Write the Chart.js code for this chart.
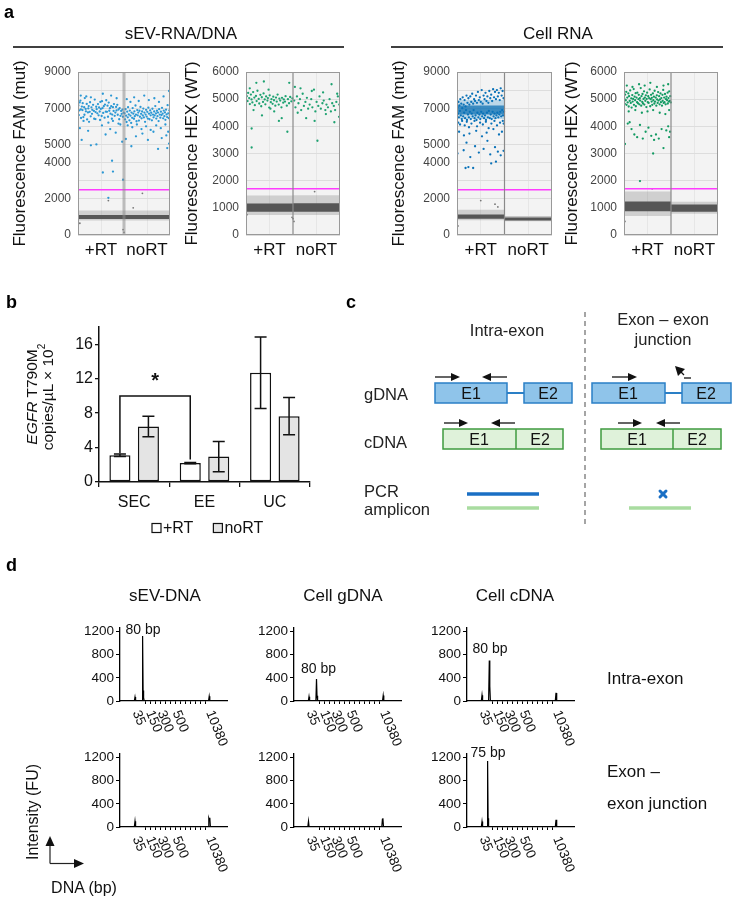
<!DOCTYPE html>
<html><head><meta charset="utf-8">
<script src="https://cdn.jsdelivr.net/npm/chart.js@4.4.1/dist/chart.umd.min.js"></script>
<style>
html,body{margin:0;padding:0;background:#fff}
body{width:737px;height:898px;position:relative;overflow:hidden;font-family:"Liberation Sans",Arial,sans-serif}
canvas{position:absolute}
svg{position:absolute;left:0;top:0}
</style></head><body>
<canvas id="a1" width="176" height="210" style="left:0px;top:55px"></canvas>
<canvas id="a2" width="168" height="210" style="left:176px;top:55px"></canvas>
<canvas id="a3" width="176" height="210" style="left:380px;top:55px"></canvas>
<canvas id="a4" width="166" height="210" style="left:556px;top:55px"></canvas>
<canvas id="bChart" width="330" height="240" style="left:0px;top:310px"></canvas>
<canvas id="d1" width="179" height="143" style="left:60px;top:608px"></canvas>
<canvas id="d2" width="179" height="143" style="left:234px;top:608px"></canvas>
<canvas id="d3" width="179" height="143" style="left:407px;top:608px"></canvas>
<canvas id="d4" width="179" height="143" style="left:60px;top:734px"></canvas>
<canvas id="d5" width="179" height="143" style="left:234px;top:734px"></canvas>
<canvas id="d6" width="179" height="143" style="left:407px;top:734px"></canvas>

<svg width="737" height="898" font-family="Liberation Sans, Arial, sans-serif">
  <g font-weight="bold" font-size="18" fill="#000">
    <text x="4" y="18">a</text><text x="6" y="308">b</text>
    <text x="346" y="308">c</text><text x="6" y="571">d</text>
  </g>
  <g font-size="17" text-anchor="middle" fill="#111">
    <text x="181" y="39">sEV-RNA/DNA</text>
    <text x="558" y="39">Cell RNA</text>
  </g>
  <line x1="13" y1="47" x2="344" y2="47" stroke="#000" stroke-width="1.6"/>
  <line x1="391" y1="47" x2="723" y2="47" stroke="#000" stroke-width="1.6"/>

  <g font-size="15.5" fill="#111" text-anchor="middle">
    <text transform="translate(31,397) rotate(-90)" dominant-baseline="central"><tspan font-style="italic">EGFR</tspan> T790M</text>
    <text transform="translate(47,397) rotate(-90)" dominant-baseline="central">copies/µL × 10<tspan font-size="10" dy="-6">2</tspan></text>
  </g>

  <line x1="585" y1="312" x2="585" y2="525" stroke="#888" stroke-width="1.5" stroke-dasharray="5,4"/>
  <g font-size="16.5" fill="#222">
    <text x="507" y="336" text-anchor="middle">Intra-exon</text>
    <text x="663" y="325" text-anchor="middle">Exon – exon</text>
    <text x="663" y="345" text-anchor="middle">junction</text>
    <text x="364" y="400">gDNA</text>
    <text x="364" y="448">cDNA</text>
    <text x="364" y="497">PCR</text>
    <text x="364" y="515">amplicon</text>
  </g>
  <g stroke="#2a7fc6" stroke-width="1.5" fill="#8fc4ea">
    <line x1="507" y1="393" x2="524" y2="393" stroke-width="2"/>
    <rect x="435" y="383" width="72" height="20"/>
    <rect x="524" y="383" width="48" height="20"/>
    <line x1="665" y1="393" x2="682" y2="393" stroke-width="2"/>
    <rect x="592" y="383" width="73" height="20"/>
    <rect x="682" y="383" width="49" height="20"/>
  </g>
  <g stroke="#3f9b3f" stroke-width="1.5" fill="#dff2da">
    <rect x="443" y="429" width="120" height="20"/>
    <line x1="516" y1="429" x2="516" y2="449"/>
    <rect x="601" y="429" width="120" height="20"/>
    <line x1="673" y1="429" x2="673" y2="449"/>
  </g>
  <g font-size="16" fill="#111" text-anchor="middle">
    <text x="471" y="399">E1</text><text x="548" y="399">E2</text>
    <text x="479" y="445">E1</text><text x="540" y="445">E2</text>
    <text x="628" y="399">E1</text><text x="706" y="399">E2</text>
    <text x="637" y="445">E1</text><text x="697" y="445">E2</text>
  </g>
  <g stroke="#111" stroke-width="1.3" fill="#111">
    <line x1="435" y1="377" x2="452" y2="377"/><polygon points="460,377 451,373 451,381" stroke="none"/>
    <line x1="490" y1="377" x2="507" y2="377"/><polygon points="482,377 491,373 491,381" stroke="none"/>
    <line x1="444" y1="423" x2="460" y2="423"/><polygon points="468,423 459,419 459,427" stroke="none"/>
    <line x1="499" y1="423" x2="515" y2="423"/><polygon points="491,423 500,419 500,427" stroke="none"/>
    <line x1="612" y1="377" x2="629" y2="377"/><polygon points="637,377 628,373 628,381" stroke="none"/>
    <polygon points="675,366 685,369 678,376" stroke="none"/><line x1="680" y1="371" x2="684" y2="375"/>
    <line x1="684" y1="378" x2="691" y2="378"/>
    <line x1="618" y1="423" x2="634" y2="423"/><polygon points="642,423 633,419 633,427" stroke="none"/>
    <line x1="664" y1="423" x2="680" y2="423"/><polygon points="656,423 665,419 665,427" stroke="none"/>
  </g>
  <line x1="467" y1="494" x2="539" y2="494" stroke="#1a6fc4" stroke-width="3.5"/>
  <line x1="467" y1="508" x2="539" y2="508" stroke="#a9dca0" stroke-width="3.5"/>
  <line x1="629" y1="508" x2="691" y2="508" stroke="#a9dca0" stroke-width="3.5"/>
  <g stroke="#1a6fc4" stroke-width="3" stroke-linecap="round">
    <line x1="660" y1="491" x2="666" y2="497"/><line x1="666" y1="491" x2="660" y2="497"/>
  </g>

  <g font-size="17" fill="#111" text-anchor="middle">
    <text x="165" y="601">sEV-DNA</text>
    <text x="343" y="601">Cell gDNA</text>
    <text x="515" y="601">Cell cDNA</text>
  </g>
  <g font-size="17" fill="#111">
    <text x="607" y="684">Intra-exon</text>
    <text x="607" y="777">Exon –</text>
    <text x="607" y="809">exon junction</text>
  </g>
  <g font-size="16" fill="#111" text-anchor="middle">
    <text transform="translate(32,812) rotate(-90)" dominant-baseline="central">Intensity (FU)</text>
    <text x="84" y="893">DNA (bp)</text>
  </g>
  <g stroke="#222" stroke-width="1.2" fill="#111">
    <line x1="50" y1="863.5" x2="50" y2="845"/><polygon points="50,836 45.5,846 54.5,846" stroke="none"/>
    <line x1="50" y1="863.5" x2="75" y2="863.5"/><polygon points="84,863.5 74,859 74,868" stroke="none"/>
  </g>
</svg>

<script>
// ---------------- DATA ----------------
// panel a : ddPCR droplet amplitudes (event index 0-50 = +RT, 50-100 = noRT)
const groupLabels = ['+RT', 'noRT'];
const famTickLabels = [0, 2000, 4000, 5000, 7000, 9000];
const hexTickLabels = [0, 1000, 2000, 3000, 4000, 5000, 6000];
const famThreshold = 2500;
const hexThreshold = 1700;

// negative droplet clusters: [low, high] amplitude of the dense core and of the sparse halo
const sevFamNeg = { rt: { core: [880, 1100], halo: [800, 1350] }, no: { core: [880, 1100], halo: [800, 1350] } };
const sevHexNeg = { rt: { core: [860, 1160], halo: [740, 1450] }, no: { core: [860, 1170], halo: [740, 1460] } };
const cellFamNeg = { rt: { core: [900, 1130], halo: [820, 1400] }, no: { core: [800, 960], halo: [760, 1030] } };
const cellHexNeg = { rt: { core: [870, 1230], halo: [700, 1600] }, no: { core: [860, 1120], halo: [780, 1220] } };
const cellFamPosCluster = { core: [6650, 7150], halo: [6400, 7450] };

// positive droplets [event, amplitude, ...]
const sevFamPos = [0.4,7150, 0.9,6620, 1.3,6880, 1.8,7320, 2.6,7420, 3.1,6930, 3.3,6460, 4.2,7090, 4.9,6900, 5.1,7280, 5.8,6510, 6.7,7060, 7.0,6640, 7.4,7560, 8.3,6960, 8.6,6830, 9.5,7240, 9.9,6380, 10.8,6770, 11.2,6990, 11.6,7120, 12.7,6800, 13.1,7330, 13.8,6550, 14.6,7050, 15.2,6690, 15.5,6910, 16.4,7190, 17.3,6850, 17.6,6420, 18.2,7480, 19.1,6790, 19.8,7080, 20.3,6950, 21.0,6720, 21.7,7230, 22.4,6610, 22.9,7040, 23.6,6820, 24.3,7350, 24.8,6960, 25.7,6570, 26.1,7390, 26.6,7000, 27.4,6740, 28.0,7110, 28.9,6480, 29.3,7200, 30.2,6810, 30.7,7440, 31.5,6800, 32.1,7140, 32.6,6530, 33.4,7310, 34.0,6860, 34.7,7000, 35.3,6700, 36.1,7110, 36.8,6420, 37.2,6650, 38.0,7060, 38.7,6850, 39.1,7230, 39.9,6580, 40.6,6760, 41.4,7070, 41.9,6880, 42.7,7190, 43.2,6640, 44.1,6930, 44.8,6390, 45.3,7010, 46.2,6580, 46.9,6850, 47.5,6690, 48.3,6920, 48.8,6530, 49.6,6760,
  3,7700, 9,7650, 14,7600, 27,7800, 36,7700, 42,7550, 6,6300, 12,6250, 19,6400, 24,6350, 33,6200, 38,6300, 44,6150,
  2,5900, 4,5250, 11,5750, 14,4950, 20,5000, 26,6050, 30,5550, 35,5850, 41,5650, 46,6100, 48,5150, 27,3450, 37,4100, 38,3500, 33,2050, 49,3050,
  50.6,6720, 51.2,6380, 51.7,6950, 52.3,6590, 52.8,6240, 53.5,6810, 54.1,6500, 54.4,7060, 55.2,6660, 55.9,6330, 56.3,6870, 57.0,6590, 57.8,6190, 58.2,6760, 58.9,6470, 59.4,7010, 60.1,6700, 60.8,6420, 61.3,6830, 61.7,6560, 62.5,7150, 63.0,6650, 63.6,6280, 64.4,6900, 64.9,6610, 65.5,6760, 66.2,6320, 66.8,6860, 67.3,6530, 67.9,7070, 68.6,6690, 69.1,6440, 69.7,6820, 70.4,6600, 71.0,6980, 71.6,6490, 72.2,6760, 72.9,6250, 73.5,6650, 74.0,6910, 74.6,6540, 75.3,6800, 75.9,6430, 76.5,7030, 77.2,6700, 77.7,6390, 78.4,6880, 79.0,6610, 79.6,6750, 80.3,6330, 80.9,6970, 81.5,6650, 82.1,6500, 82.8,6820, 83.3,6600, 84.0,7120, 84.7,6710, 85.1,6430, 85.8,6860, 86.4,6560, 87.0,6760, 87.6,6290, 88.2,6950, 88.9,6650, 89.5,6480, 90.1,6810, 90.8,6620, 91.3,7020, 92.0,6700, 92.6,6440, 93.2,6870, 93.9,6560, 94.5,6770, 95.0,6360, 95.7,6920, 96.3,6660, 96.9,6510, 97.4,7170, 98.1,6720, 98.7,6450, 99.3,6880, 99.8,6600,
  53,7500, 57,7350, 61,7600, 66,7400, 72,7700, 77,7450, 83,7550, 88,7350, 93,7650, 99,7950, 54,6050, 59,5950, 64,6100, 69,5850, 74,6000, 79,5800, 85,6050, 90,5900, 95,6100, 98,5700,
  52,5300, 58,4900, 63,5450, 70,5600, 76,5250, 82,5700, 87,4750, 91,5350, 96,5500, 99,5050, 97,4800];
const sevHexPos = [0.8,5110, 1.7,4930, 2.3,5230, 3.4,5040, 4.1,4820, 5.2,5170, 5.9,4990, 6.8,4880, 7.6,5260, 8.9,5060, 9.4,4780, 10.6,5120, 11.3,4930, 12.2,5310, 13.5,5010, 14.1,4840, 15.3,5160, 16.2,4740, 16.8,5070, 18.1,4900, 18.7,5210, 19.9,4990, 20.6,4810, 21.4,5100, 22.8,4950, 23.3,5040, 24.7,4690, 25.2,5140, 26.4,4890, 27.1,5000, 28.3,4830, 29.0,5090, 29.8,4960, 31.2,4760, 31.9,5060, 32.7,4910, 33.6,5170, 34.8,4800, 35.5,5020, 36.4,4950, 37.7,4700, 38.3,5050, 39.6,4870, 40.2,4990, 41.5,4910, 42.1,5110, 43.4,4760, 44.6,5000, 45.8,4850, 47.0,5080, 48.2,4920, 49.3,5030,
  11,5600, 19,5650, 46,5600, 4,5400, 24,5350, 8,4600, 30,4550, 17,4400, 38,4300, 26,4650, 6,3920, 6,3220, 44,3800, 35,4200,
  51.3,4950, 52.6,4700, 54.2,5100, 55.8,4850, 57.4,5000, 58.7,4600, 60.3,5200, 61.6,4750, 63.2,4900, 64.8,5050, 66.1,4650, 67.7,4800, 69.4,5000, 70.6,4700, 72.3,5350, 73.8,4550, 75.1,4900, 76.9,4750, 78.2,5100, 79.6,4650, 81.3,4850, 82.7,4950, 84.4,4600, 85.6,4800, 87.2,4700, 88.9,5000, 90.3,4550, 91.7,4850, 93.4,4750, 94.8,4600, 96.1,4900, 97.7,5100, 99.2,4800,
  52,5450, 58,5400, 70,5300, 82,5250, 91,5550, 97,5200, 64,4300, 73,4200, 85,4450, 94,4150, 99,4350, 76,3470, 55,4500];
const cellFamPos = [0.5,7050, 1,6700, 1.5,7350, 2,6500, 2.5,7150, 3,6850, 3.5,7500, 4,6600, 4.5,7250, 5,6400, 5.5,7000, 6,7600, 6.5,6550, 7,7200, 7.5,6750, 8,7450, 8.5,6450, 9,7100, 9.5,6900, 10,7700, 10.5,6350, 11,7300, 11.5,6650, 12,7550, 12.5,6500, 13,7200, 13.5,6800, 14,7650, 14.5,6400, 15,7350, 15.5,6700, 16,7800, 16.5,6550, 17,7250, 17.5,6900, 18,7500, 18.5,6450, 19,7400, 19.5,6600, 20,7700, 20.5,6350, 21,7300, 21.5,6750, 22,7900, 22.5,6500, 23,7450, 23.5,6650, 24,7600, 24.5,6400, 25,7350, 25.5,6800, 26,8000, 26.5,6550, 27,7250, 27.5,6700, 28,7700, 28.5,6450, 29,7500, 29.5,6600, 30,7850, 30.5,6350, 31,7400, 31.5,6750, 32,7650, 32.5,6500, 33,7300, 33.5,6850, 34,7950, 34.5,6450, 35,7550, 35.5,6650, 36,7750, 36.5,6400, 37,7400, 37.5,6800, 38,8050, 38.5,6550, 39,7600, 39.5,6700, 40,7900, 40.5,6450, 41,7500, 41.5,6600, 42,8000, 42.5,6750, 43,7650, 43.5,6500, 44,7850, 44.5,6650, 45,7450, 45.5,6800, 46,8100, 46.5,6550, 47,7700, 47.5,6900, 48,7950, 48.5,6600, 49,7550, 49.5,6800,
  1.3,6200, 3.2,6100, 5.4,6300, 8.1,6050, 10.3,6250, 12.6,5950, 15.2,6150, 18.4,6300, 21.1,6000, 24.3,6200, 27.2,6100, 30.4,6250, 33.3,5900, 36.2,6150, 39.4,6300, 42.1,6050, 45.3,6200, 48.2,6300, 49.1,6150,
  2.2,5700, 7.3,5500, 13.1,5600, 20.2,5750, 26.3,5450, 31.2,5650, 38.3,5850, 44.2,5550, 47.3,5700,
  0.5,4500, 7,4680, 10,5100, 14,4300, 19,4900, 23,4550, 28,4750, 32,5200, 35,4450, 40,4850, 43,4600, 46,4400, 49,4650, 9,3700, 17,3700, 12,3750, 36,3950, 41,4050];
const cellHexPos = [0.3,5020, 0.8,4830, 1.2,5170, 1.9,4960, 2.4,5270, 2.7,4790, 3.5,5060, 3.9,4880, 4.6,5210, 5.0,4730, 5.4,5110, 6.1,4940, 6.6,5320, 7.2,4860, 7.7,5030, 8.1,4690, 8.8,5150, 9.2,4910, 9.7,5010, 10.3,5370, 10.6,4790, 11.3,5090, 11.8,4960, 12.4,5220, 12.6,4740, 13.3,5060, 13.9,4890, 14.2,5240, 14.8,4850, 15.4,5000, 15.7,5160, 16.3,4810, 16.9,5040, 17.2,4950, 17.8,5410, 18.3,4760, 18.6,5110, 19.4,4900, 19.7,5190, 20.2,4840, 20.8,5010, 21.3,5290, 21.6,4800, 22.1,5060, 22.7,4940, 23.2,5140, 23.8,4710, 24.1,5010, 24.6,5240, 25.3,4890, 25.8,5110, 26.2,4860, 26.7,5040, 27.3,5360, 27.9,4740, 28.4,5000, 28.8,5160, 29.4,4910, 29.6,5050, 30.1,4790, 30.7,5210, 31.2,4960, 31.8,5090, 32.3,4840, 32.6,5310, 33.1,4910, 33.7,5060, 34.4,4760, 34.9,5140, 35.2,4990, 35.8,4860, 36.3,5260, 36.7,4950, 37.4,5110, 37.9,4810, 38.2,4990, 38.8,5210, 39.3,4890, 39.7,5040, 40.4,4760, 40.9,5160, 41.1,4940, 41.7,5340, 42.2,4860, 42.8,5060, 43.1,4890, 43.6,5190, 44.3,4810, 44.7,5000, 45.2,5090, 45.9,4960, 46.4,5240, 46.6,4840, 47.3,5040, 47.8,4910, 48.1,5290, 48.7,4940, 49.2,5110, 49.8,4880,
  3,5500, 9,5450, 16,5550, 22,5500, 28,5600, 35,5450, 42,5500, 47,5550, 5,4550, 12,4600, 19,4500, 25,4550, 31,4600, 38,4500, 44,4450, 48,4600,
  1,3350, 4,4100, 6,4150, 8,3900, 11,3700, 14,3600, 17,4050, 20,3550, 23,3800, 26,3950, 29,3650, 32,3500, 34,3700, 37,3550, 40,3900, 42,3200, 45,3850, 47,4000, 49,3800, 48,3600, 31,3000, 17,1985];
const sevFamOutliers = [2,650, 49,300, 50,150, 70,2300, 33,1900, 60,1500];
const sevHexOutliers = [1,750, 50,600, 51,500, 49,650, 73,1600];
const cellFamOutliers = [1,500, 25,1900, 40,1700, 43,1550];
const cellHexOutliers = [1,500, 30,1700];

// panel b : EGFR T790M copies/uL x 10^2
const bCategories = ['SEC', 'EE', 'UC'];
const bSeries = ['+RT', 'noRT'];
const bPlusRT = [3.1, 2.2, 12.7];
const bPlusRTErr = [0.15, 0.07, 4.15];
const bNoRT = [6.45, 2.95, 7.65];
const bNoRTErr = [1.2, 1.75, 2.17];
const bTicks = [0, 4, 8, 12, 16];
const bSignificance = { fromCat: 0, toCat: 1, level: 10, leftEnd: 3.35, rightEnd: 2.6, mark: '*' };

// panel d : Bioanalyzer traces [migration, FU, ...]
const epgYTicks = [0, 400, 800, 1200];
const epgMinorTicks = [25, 30, 35, 40, 45, 50, 55, 60, 65, 70, 75, 80, 85];
const epgLadderLabels = ['35', '150', '300', '500', '10380'];
const epgLadderPos = [16, 29.5, 41, 56, 89.5];
const traceSevIntra = [0,0, 14.3,0, 15,70, 15.6,0, 22,0, 22.6,1120, 23.1,180, 23.6,60, 24.2,0, 88.5,0, 89.2,80, 89.8,0, 107,0];
const traceGIntra = [0,0, 14.3,0, 15,75, 15.6,0, 21.9,0, 22.5,380, 23,90, 23.6,0, 88.5,0, 89.2,95, 89.8,0, 107,0];
const traceCIntra = [0,0, 14.3,0, 15,100, 15.6,0, 21.6,0, 22.3,700, 22.8,260, 23.4,0, 88.3,0, 89,140, 89.7,0, 107,0];
const traceSevJunc = [0,0, 14.3,0, 15,100, 15.6,0, 88.3,0, 88.8,150, 89.3,120, 89.8,160, 90.4,0, 107,0];
const traceGJunc = [0,0, 13.8,0, 14.5,100, 15.1,0, 87.8,0, 88.4,130, 88.9,150, 89.5,0, 107,0];
const traceCJunc = [0,0, 14.3,0, 15,95, 15.6,0, 20,0, 20.6,1140, 21.1,150, 21.6,0, 88.3,0, 89,125, 89.7,0, 107,0];
const peakSevIntra = { text: '80 bp', x: 23, y: 1225 };
const peakGIntra = { text: '80 bp', x: 24.5, y: 552 };
const peakCIntra = { text: '80 bp', x: 23, y: 892 };
const peakCJunc = { text: '75 bp', x: 21, y: 1282 };

// ---------------- HELPERS ----------------
Chart.defaults.font.family = '"Liberation Sans", Arial, sans-serif';
Chart.defaults.animation = false;

function pairs(a) { const o = []; for (let i = 0; i < a.length; i += 2) o.push({ x: a[i], y: a[i + 1] }); return o; }
function band(x0, x1, r, color) {
  return { type: 'line', data: [{ x: x0, y: r[1] }, { x: x1, y: r[1] }], fill: { value: r[0] },
    backgroundColor: color, borderWidth: 0, pointRadius: 0 };
}
const bgFrame = {
  id: 'bgFrame',
  beforeDraw(c) { const a = c.chartArea, x = c.ctx; x.save(); x.fillStyle = '#f3f3f3'; x.fillRect(a.left, a.top, a.width, a.height); x.restore(); },
  afterDraw(c) { const a = c.chartArea, x = c.ctx; x.save(); x.strokeStyle = '#999'; x.lineWidth = 1; x.strokeRect(a.left + 0.5, a.top + 0.5, a.width - 1, a.height - 1); x.restore(); }
};

function droplet(id, o) {
  const CORE = '#565656', HALO = 'rgba(105,105,105,0.26)';
  const ds = [];
  ds.push({ type: 'line', data: [{ x: 50, y: 0 }, { x: 50, y: o.ymax }], borderColor: o.divColor, borderWidth: o.divWidth, pointRadius: 0, fill: false });
  ds.push({ type: 'line', data: [{ x: 0, y: o.thr }, { x: 100, y: o.thr }], borderColor: '#ff3cff', borderWidth: 1.4, pointRadius: 0, fill: false });
  ds.push({ type: 'scatter', data: pairs(o.pos), backgroundColor: o.posColor, pointRadius: 1.15, borderWidth: 0 });
  ds.push({ type: 'scatter', data: pairs(o.out), backgroundColor: '#777', pointRadius: 0.9, borderWidth: 0 });
  if (o.cluster) {
    ds.push(band(0, 50, o.cluster.core, o.clusterCore));
    ds.push(band(0, 50, o.cluster.halo, o.clusterHalo));
  }
  ds.push(band(0, 50, o.neg.rt.core, CORE));
  ds.push(band(50, 100, o.neg.no.core, CORE));
  ds.push(band(0, 50, o.neg.rt.halo, HALO));
  ds.push(band(50, 100, o.neg.no.halo, HALO));
  const allTicks = []; for (let v = 0; v <= o.ymax; v += 1000) allTicks.push(v);
  new Chart(document.getElementById(id), {
    type: 'scatter',
    data: { datasets: ds },
    options: {
      responsive: false, animation: false, devicePixelRatio: 1,
      layout: { padding: { top: 17, right: o.padR, left: 0, bottom: 0 } },
      plugins: { legend: { display: false }, tooltip: { enabled: false } },
      scales: {
        x: { type: 'linear', min: 0, max: 100,
          afterBuildTicks: s => { s.ticks = [25, 75].map(v => ({ value: v })); },
          afterFit: s => { s.height = 30; },
          ticks: { callback: v => v === 25 ? groupLabels[0] : (v === 75 ? groupLabels[1] : ''), font: { size: 17 }, color: '#111', padding: 5, maxRotation: 0, autoSkip: false },
          grid: { color: 'rgba(0,0,0,0.05)', drawTicks: false }, border: { display: false } },
        y: { type: 'linear', min: 0, max: o.ymax,
          afterBuildTicks: s => { s.ticks = allTicks.map(v => ({ value: v })); },
          afterFit: s => { s.width = o.yW; },
          ticks: { callback: v => o.labels.includes(v) ? String(v) : '', font: { size: 12 }, color: '#444', padding: 7, autoSkip: false },
          grid: { color: '#dddddd', drawTicks: false }, border: { display: false },
          title: { display: true, text: o.title, font: { size: 17 }, color: '#111', padding: { top: o.tPad, bottom: 0 } } }
      }
    },
    plugins: [bgFrame]
  });
}

droplet('a1', { ymax: 9000, labels: famTickLabels, thr: famThreshold, pos: sevFamPos, out: sevFamOutliers, neg: sevFamNeg,
  posColor: '#2c98d4', title: 'Fluorescence FAM (mut)', yW: 78, padR: 6, tPad: 10, divColor: 'rgba(140,140,140,0.55)', divWidth: 3 });
droplet('a2', { ymax: 6000, labels: hexTickLabels, thr: hexThreshold, pos: sevHexPos, out: sevHexOutliers, neg: sevHexNeg,
  posColor: '#1ea271', title: 'Fluorescence HEX (WT)', yW: 70, padR: 4, tPad: 6, divColor: '#8a8a8a', divWidth: 1.2 });
droplet('a3', { ymax: 9000, labels: famTickLabels, thr: famThreshold, pos: cellFamPos, out: cellFamOutliers, neg: cellFamNeg,
  cluster: cellFamPosCluster, clusterCore: 'rgba(8,110,178,0.72)', clusterHalo: 'rgba(20,130,200,0.25)',
  posColor: '#0a72b8', title: 'Fluorescence FAM (mut)', yW: 77, padR: 4, tPad: 9, divColor: '#8a8a8a', divWidth: 1.2 });
droplet('a4', { ymax: 6000, labels: hexTickLabels, thr: hexThreshold, pos: cellHexPos, out: cellHexOutliers, neg: cellHexNeg,
  posColor: '#129a62', title: 'Fluorescence HEX (WT)', yW: 68, padR: 4, tPad: 6, divColor: '#8a8a8a', divWidth: 1.2 });

// ---------------- panel b ----------------
const errData = [bPlusRTErr, bNoRTErr];
const bExtras = {
  id: 'bExtras',
  afterDatasetsDraw(c) {
    const ctx = c.ctx, y = c.scales.y;
    ctx.save(); ctx.strokeStyle = '#111'; ctx.lineWidth = 1.5;
    c.data.datasets.forEach((d, i) => {
      c.getDatasetMeta(i).data.forEach((el, j) => {
        const v = d.data[j], e = errData[i][j];
        const t = y.getPixelForValue(v + e), b = y.getPixelForValue(v - e);
        ctx.beginPath(); ctx.moveTo(el.x, t); ctx.lineTo(el.x, b);
        ctx.moveTo(el.x - 6, t); ctx.lineTo(el.x + 6, t);
        ctx.moveTo(el.x - 6, b); ctx.lineTo(el.x + 6, b); ctx.stroke();
      });
    });
    const m = c.getDatasetMeta(0).data, s = bSignificance;
    const x1 = m[s.fromCat].x, x2 = m[s.toCat].x, ly = y.getPixelForValue(s.level);
    ctx.beginPath(); ctx.moveTo(x1, y.getPixelForValue(s.leftEnd)); ctx.lineTo(x1, ly); ctx.lineTo(x2, ly); ctx.lineTo(x2, y.getPixelForValue(s.rightEnd)); ctx.stroke();
    ctx.fillStyle = '#111'; ctx.font = 'bold 20px "Liberation Sans", Arial, sans-serif';
    ctx.textAlign = 'center'; ctx.textBaseline = 'middle';
    ctx.fillText(s.mark, (x1 + x2) / 2, ly - 14);
    ctx.font = '16px "Liberation Sans", Arial, sans-serif'; ctx.textAlign = 'left';
    let lx = c.chartArea.left + 53; const lyy = c.chartArea.bottom + 46;
    c.data.datasets.forEach(d => {
      ctx.fillStyle = d.backgroundColor; ctx.fillRect(lx, lyy - 4.5, 9, 9);
      ctx.lineWidth = 1.2; ctx.strokeRect(lx, lyy - 4.5, 9, 9);
      ctx.fillStyle = '#111'; ctx.fillText(d.label, lx + 11, lyy + 1);
      lx += 11 + ctx.measureText(d.label).width + 20;
    });
    ctx.restore();
  }
};
new Chart(document.getElementById('bChart'), {
  type: 'bar',
  data: { labels: bCategories, datasets: [
    { label: bSeries[0], data: bPlusRT, backgroundColor: '#ffffff', borderColor: '#111', borderWidth: 1.5, borderSkipped: false, categoryPercentage: 0.81, barPercentage: 0.74 },
    { label: bSeries[1], data: bNoRT, backgroundColor: '#e4e4e4', borderColor: '#111', borderWidth: 1.5, borderSkipped: false, categoryPercentage: 0.81, barPercentage: 0.74 }
  ] },
  options: {
    responsive: false, animation: false, devicePixelRatio: 1,
    layout: { padding: { top: 17, right: 20, left: 60, bottom: 38 } },
    plugins: { legend: { display: false }, tooltip: { enabled: false } },
    scales: {
      x: { afterFit: s => { s.height = 30; },
        ticks: { font: { size: 16 }, color: '#111', padding: 6 },
        grid: { offset: true, drawOnChartArea: false, tickLength: 5, color: '#111', lineWidth: 1.3 },
        border: { color: '#111', width: 1.5 } },
      y: { min: 0, max: 18,
        afterBuildTicks: s => { s.ticks = bTicks.map(v => ({ value: v })); },
        afterFit: s => { s.width = 39; },
        ticks: { font: { size: 16 }, color: '#111', padding: 2, callback: v => String(v) },
        grid: { drawOnChartArea: false, tickLength: 4, color: '#111', lineWidth: 1.3 },
        border: { color: '#111', width: 1.5 } }
    }
  },
  plugins: [bExtras]
});

// ---------------- panel d ----------------
function epg(id, trace, peak) {
  const lab = {
    id: 'epgLab',
    afterDraw(c) {
      const ctx = c.ctx, xs = c.scales.x, ys = c.scales.y;
      ctx.save(); ctx.fillStyle = '#111';
      ctx.font = '13.5px "Liberation Sans", Arial, sans-serif';
      ctx.textAlign = 'left'; ctx.textBaseline = 'middle';
      epgLadderLabels.forEach((t, i) => {
        ctx.save(); ctx.translate(xs.getPixelForValue(epgLadderPos[i]), xs.top + 10);
        ctx.rotate(68 * Math.PI / 180); ctx.fillText(t, 0, 0); ctx.restore();
      });
      if (peak) {
        ctx.font = '14px "Liberation Sans", Arial, sans-serif'; ctx.textAlign = 'center';
        ctx.fillText(peak.text, xs.getPixelForValue(peak.x), ys.getPixelForValue(peak.y));
      }
      ctx.restore();
    }
  };
  new Chart(document.getElementById(id), {
    type: 'line',
    data: { datasets: [{ data: pairs(trace), borderColor: '#000', borderWidth: 1.2, pointRadius: 0, tension: 0, fill: false }] },
    options: {
      responsive: false, animation: false, devicePixelRatio: 1,
      layout: { padding: { top: 20, right: 12, left: 0, bottom: 0 } },
      plugins: { legend: { display: false }, tooltip: { enabled: false } },
      scales: {
        x: { type: 'linear', min: 0, max: 107,
          afterBuildTicks: s => { s.ticks = epgMinorTicks.map(v => ({ value: v })); },
          afterFit: s => { s.height = 50; },
          ticks: { display: false },
          grid: { drawOnChartArea: false, drawTicks: true, tickLength: 3, color: '#000', lineWidth: 1 },
          border: { color: '#000', width: 1.3 } },
        y: { type: 'linear', min: 0, max: 1260,
          afterBuildTicks: s => { s.ticks = epgYTicks.map(v => ({ value: v })); },
          afterFit: s => { s.width = 60; },
          ticks: { font: { size: 13.5 }, color: '#111', padding: 2, callback: v => String(v) },
          grid: { drawOnChartArea: false, tickLength: 4, color: '#000', lineWidth: 1 },
          border: { color: '#000', width: 1.3 } }
      }
    },
    plugins: [lab]
  });
}
epg('d1', traceSevIntra, peakSevIntra);
epg('d2', traceGIntra, peakGIntra);
epg('d3', traceCIntra, peakCIntra);
epg('d4', traceSevJunc, null);
epg('d5', traceGJunc, null);
epg('d6', traceCJunc, peakCJunc);
</script>
</body></html>
